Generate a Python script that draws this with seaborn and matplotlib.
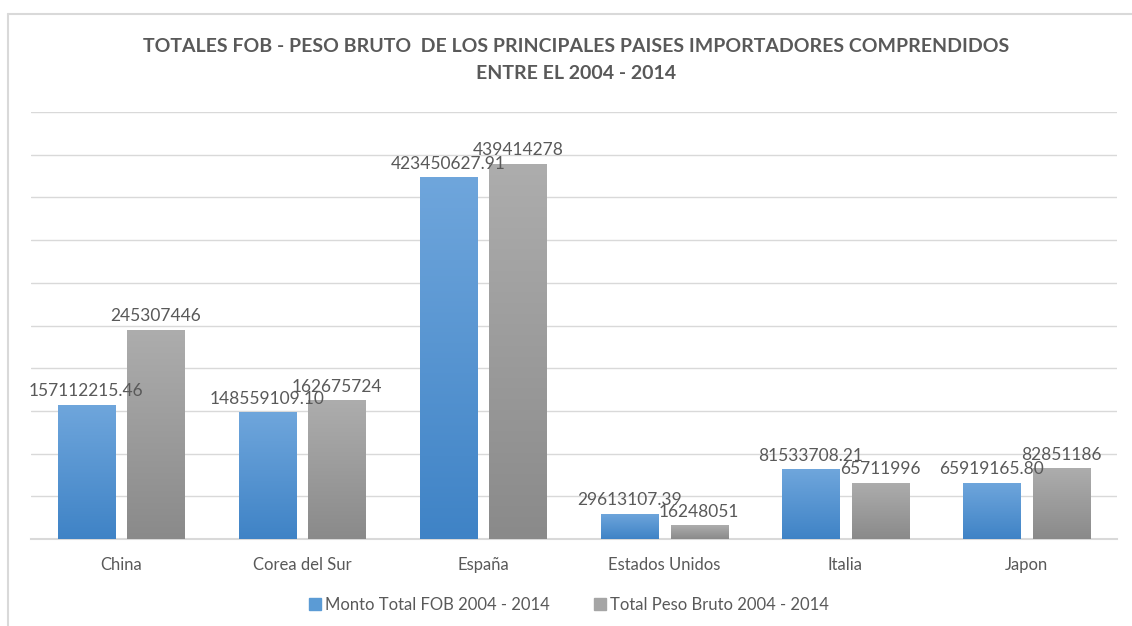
import numpy as np
import pandas as pd
import matplotlib
matplotlib.use("Agg")
import matplotlib.pyplot as plt
import seaborn as sns
from matplotlib.colors import LinearSegmentedColormap
from matplotlib.lines import Line2D

# ---- data ----
categories = ["China", "Corea del Sur", "España", "Estados Unidos", "Italia", "Japon"]
fob_values = [157112215.46, 148559109.10, 423450627.91, 29613107.39, 81533708.21, 65919165.80]
peso_values = [245307446, 162675724, 439414278, 16248051, 65711996, 82851186]
series_names = ["Monto Total FOB 2004 - 2014", "Total Peso Bruto 2004 - 2014"]
title_text = "TOTALES FOB - PESO BRUTO  DE LOS PRINCIPALES PAISES IMPORTADORES COMPRENDIDOS\nENTRE EL 2004 - 2014"

df = pd.DataFrame({
    "pais": categories * 2,
    "valor": list(fob_values) + list(peso_values),
    "serie": [series_names[0]] * len(categories) + [series_names[1]] * len(categories),
})

sns.set_theme(style="white")
plt.rcParams["font.family"] = ["Lato", "DejaVu Sans"]

TXT = "#595959"
top_cols = ["#6fa6dc", "#adadad"]
bot_cols = ["#3f83c6", "#8a8a8a"]
base_cols = ["#5b9bd5", "#a5a5a5"]

fig = plt.figure(figsize=(11.32, 6.26), dpi=100)
ax = fig.add_axes([30.5 / 1132, 87 / 626, (1117 - 30.5) / 1132, (539 - 112) / 626])

sns.barplot(data=df, x="pais", y="valor", hue="serie", hue_order=series_names,
            palette=base_cols, width=0.768, gap=0.18, ax=ax, legend=False,
            errorbar=None, zorder=3)

ax.set_ylim(0, 500_000_000)
ax.set_yticks(np.arange(0, 500_000_001, 50_000_000))
ax.set_xlim(-0.5, len(categories) - 0.5)
ax.yaxis.grid(True, color="#d9d9d9", lw=1, zorder=0)
ax.set_yticklabels([])
ax.tick_params(axis="y", length=0)
ax.tick_params(axis="x", length=0, pad=13, labelsize=12, labelcolor=TXT)
ax.set_xlabel("")
ax.set_ylabel("")
for s in ["top", "right", "left"]:
    ax.spines[s].set_visible(False)
ax.spines["bottom"].set_color("#d9d9d9")
ax.spines["bottom"].set_linewidth(1.5)

# gradient fills + labels
for i, cont in enumerate(ax.containers):
    cmap = LinearSegmentedColormap.from_list(f"g{i}", [bot_cols[i], top_cols[i]])
    vals = fob_values if i == 0 else peso_values
    for bar, v in zip(cont.patches, vals):
        x0, w, h = bar.get_x(), bar.get_width(), bar.get_height()
        grad = np.linspace(0, 1, 256).reshape(-1, 1)
        im = ax.imshow(grad, cmap=cmap, origin="lower", aspect="auto",
                       extent=[x0, x0 + w, 0, h], zorder=3)
        im.set_clip_path(bar)
        bar.set_facecolor("none")
        bar.set_edgecolor("none")
    labels = [f"{v:.2f}" for v in vals] if i == 0 else [f"{int(v)}" for v in vals]
    ax.bar_label(cont, labels=labels, padding=4, fontsize=12.5, color=TXT, zorder=5)
ax.set_xlim(-0.5, len(categories) - 0.5)
ax.set_ylim(0, 500_000_000)

fig.text(576 / 1132, 1 - 60 / 626, title_text, ha="center", va="center",
         fontsize=14, fontweight="bold", color=TXT, linespacing=1.65)

handles = [Line2D([], [], marker="s", ls="none", color=c, markersize=8) for c in base_cols]
fig.legend(handles, series_names, loc="center", bbox_to_anchor=(568 / 1132, 1 - 605 / 626),
           ncol=2, frameon=False, fontsize=12, labelcolor=TXT, handletextpad=0.1,
           columnspacing=2.5, handlelength=1.0)

# chart frame
fig.add_artist(Line2D([8 / 1132, 1], [1 - 14 / 626, 1 - 14 / 626], transform=fig.transFigure,
                      color="#d9d9d9", lw=1.5))
fig.add_artist(Line2D([8 / 1132, 8 / 1132], [0, 1 - 14 / 626], transform=fig.transFigure,
                      color="#d9d9d9", lw=1.5))

fig.savefig("out.png", dpi=100)
